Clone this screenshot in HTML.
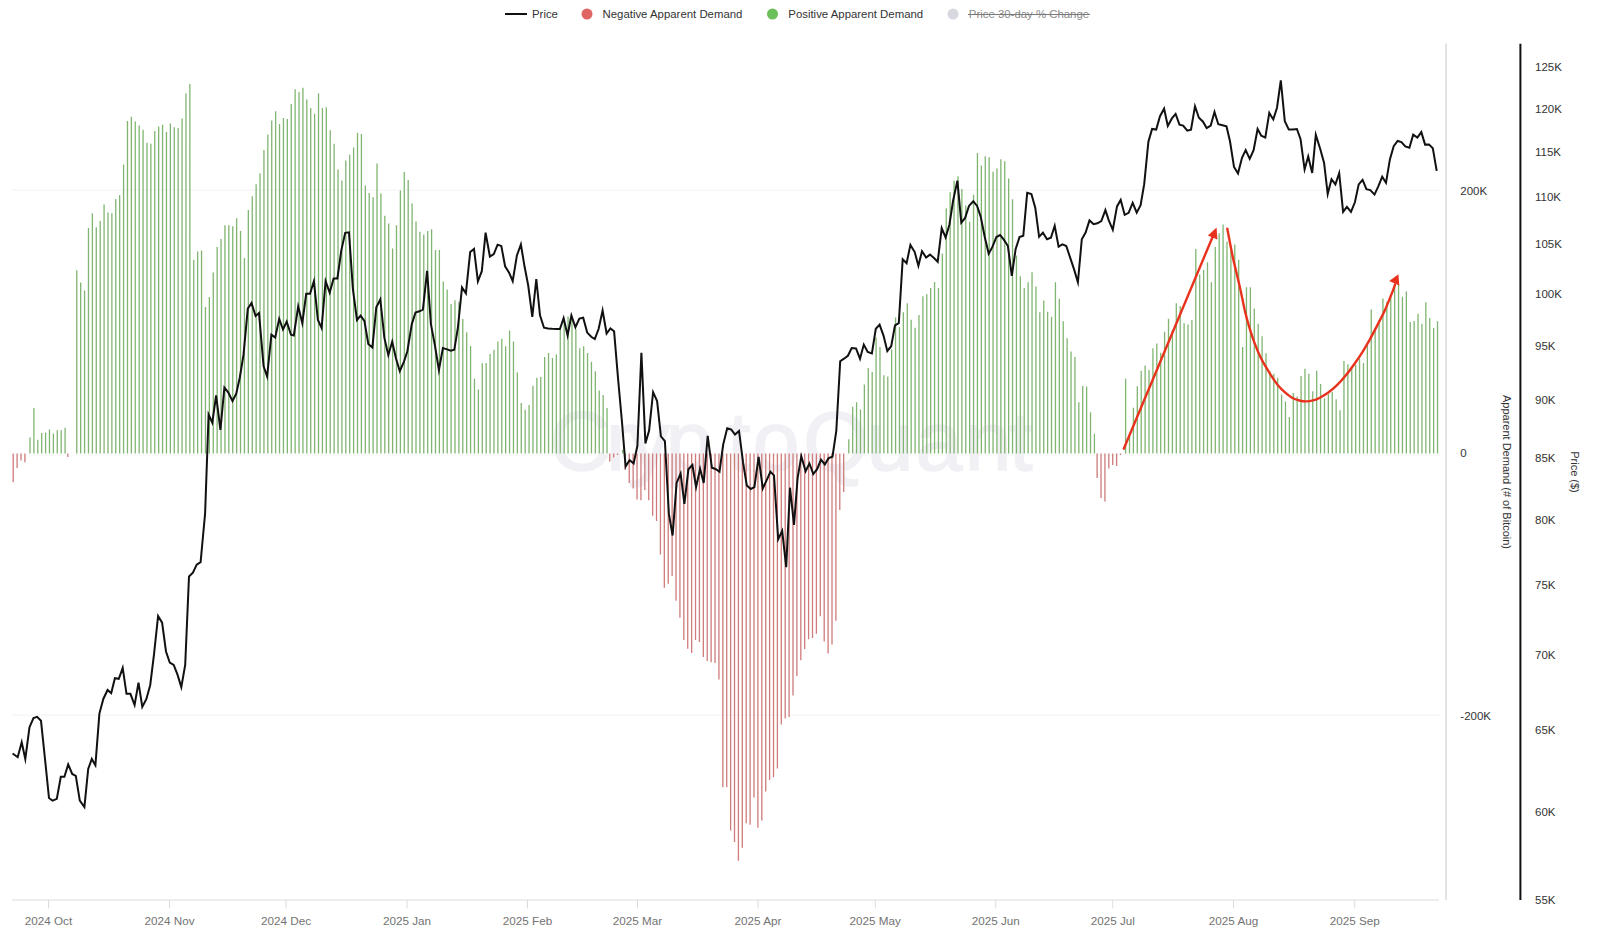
<!DOCTYPE html>
<html><head><meta charset="utf-8"><title>Apparent Demand</title>
<style>
html,body{margin:0;padding:0;background:#fff;width:1600px;height:936px;overflow:hidden}
svg{display:block;position:absolute;left:0;top:0}
text{font-family:"Liberation Sans",sans-serif}
.xl{font-size:11.7px;fill:#737373}
.yl{font-size:11.5px;fill:#333}
.yt{font-size:11px;fill:#333}
.lg{font-size:11.4px;fill:#333}
.lg2{font-size:11.4px;fill:#8a8a8a}
</style></head><body>
<svg width="1600" height="936" viewBox="0 0 1600 936">
<line x1="12" y1="190" x2="1440" y2="190" stroke="#f2f2f2" stroke-width="1"/><line x1="12" y1="715" x2="1440" y2="715" stroke="#f2f2f2" stroke-width="1"/><line x1="12" y1="455" x2="1440" y2="455" stroke="#f7f7f7" stroke-width="1"/>
<g font-family="Liberation Sans, sans-serif" font-size="84" fill="#f1f1f5" stroke="#f1f1f5" stroke-width="1.6" text-anchor="middle"><text x="580" y="470">C</text><text x="620" y="470">r</text><text x="649" y="470">y</text><text x="689" y="470">p</text><text x="739" y="470">t</text><text x="776" y="470">o</text><text x="836" y="470">Q</text><text x="890" y="470">u</text><text x="939" y="470">a</text><text x="988" y="470">n</text><text x="1021" y="470">t</text></g>
<path d="M30.00 437.6V453.5M33.90 407.9V453.5M37.79 439.7V453.5M41.69 433.1V453.5M45.59 432.4V453.5M49.49 429.5V453.5M53.39 433.4V453.5M57.29 430.3V453.5M61.19 430.3V453.5M65.09 427.7V453.5M76.78 270.2V453.5M80.68 282.5V453.5M84.58 290.6V453.5M88.48 228.0V453.5M92.38 213.2V453.5M96.28 227.2V453.5M100.18 220.9V453.5M104.08 204.6V453.5M107.98 212.5V453.5M111.88 213.2V453.5M115.77 199.0V453.5M119.67 195.3V453.5M123.57 164.6V453.5M127.47 120.9V453.5M131.37 116.7V453.5M135.27 121.6V453.5M139.17 125.5V453.5M143.07 129.7V453.5M146.97 142.7V453.5M150.87 143.7V453.5M154.76 130.9V453.5M158.66 126.5V453.5M162.56 124.8V453.5M166.46 131.9V453.5M170.36 123.6V453.5M174.26 127.2V453.5M178.16 128.0V453.5M182.06 118.4V453.5M185.96 93.3V453.5M189.86 84.0V453.5M193.75 259.7V453.5M197.65 251.5V453.5M201.55 250.6V453.5M205.45 307.0V453.5M209.35 297.0V453.5M213.25 272.6V453.5M217.15 246.9V453.5M221.05 239.0V453.5M224.95 225.3V453.5M228.84 225.3V453.5M232.74 226.3V453.5M236.64 218.2V453.5M240.54 230.9V453.5M244.44 258.0V453.5M248.34 210.0V453.5M252.24 196.3V453.5M256.14 184.3V453.5M260.04 173.2V453.5M263.94 149.9V453.5M267.83 134.4V453.5M271.73 120.4V453.5M275.63 111.3V453.5M279.53 124.1V453.5M283.43 117.9V453.5M287.33 119.1V453.5M291.23 103.9V453.5M295.13 89.2V453.5M299.03 92.1V453.5M302.93 87.7V453.5M306.82 99.5V453.5M310.72 108.1V453.5M314.62 113.7V453.5M318.52 93.3V453.5M322.42 108.1V453.5M326.32 107.3V453.5M330.22 130.2V453.5M334.12 143.7V453.5M338.02 169.5V453.5M341.92 180.6V453.5M345.81 160.4V453.5M349.71 154.8V453.5M353.61 147.4V453.5M357.51 132.7V453.5M361.41 133.9V453.5M365.31 185.5V453.5M369.21 192.9V453.5M373.11 197.3V453.5M377.01 163.4V453.5M380.91 193.6V453.5M384.81 215.7V453.5M388.70 223.6V453.5M392.60 248.6V453.5M396.50 225.3V453.5M400.40 190.4V453.5M404.30 172.0V453.5M408.20 180.1V453.5M412.10 203.4V453.5M416.00 221.6V453.5M419.90 231.7V453.5M423.79 234.6V453.5M427.69 230.9V453.5M431.59 229.2V453.5M435.49 249.9V453.5M439.39 249.9V453.5M443.29 281.4V453.5M447.19 289.5V453.5M451.09 304.0V453.5M454.99 300.2V453.5M458.89 302.1V453.5M462.78 319.0V453.5M466.68 332.3V453.5M470.58 346.0V453.5M474.48 378.7V453.5M478.38 389.6V453.5M482.28 363.3V453.5M486.18 363.1V453.5M490.08 354.0V453.5M493.98 349.8V453.5M497.88 341.5V453.5M501.77 338.7V453.5M505.67 346.3V453.5M509.57 330.6V453.5M513.47 341.5V453.5M517.37 372.3V453.5M521.27 403.1V453.5M525.17 409.8V453.5M529.07 405.0V453.5M532.97 385.8V453.5M536.87 377.7V453.5M540.76 377.1V453.5M544.66 356.9V453.5M548.56 353.1V453.5M552.46 357.9V453.5M556.36 354.6V453.5M560.26 328.1V453.5M564.16 318.5V453.5M568.06 316.5V453.5M571.96 319.4V453.5M575.86 329.0V453.5M579.75 348.3V453.5M583.65 346.3V453.5M587.55 353.1V453.5M591.45 361.7V453.5M595.35 371.3V453.5M599.25 390.6V453.5M603.15 395.0V453.5M607.05 407.9V453.5M622.64 449.7V453.5M848.79 439.3V453.5M852.68 406.8V453.5M856.58 402.2V453.5M860.48 409.4V453.5M864.38 384.6V453.5M868.28 368.0V453.5M872.18 372.1V453.5M876.08 337.6V453.5M879.98 347.0V453.5M883.88 375.2V453.5M887.78 376.6V453.5M891.67 349.6V453.5M895.57 317.6V453.5M899.47 327.0V453.5M903.37 312.3V453.5M907.27 303.3V453.5M911.17 319.7V453.5M915.07 327.7V453.5M918.97 315.0V453.5M922.87 296.2V453.5M926.77 294.2V453.5M930.66 288.1V453.5M934.56 281.9V453.5M938.46 288.1V453.5M942.36 253.5V453.5M946.26 208.3V453.5M950.16 192.3V453.5M954.06 180.8V453.5M957.96 176.2V453.5M961.86 189.0V453.5M965.76 205.4V453.5M969.65 221.7V453.5M973.55 194.8V453.5M977.45 153.1V453.5M981.35 165.4V453.5M985.25 156.3V453.5M989.15 157.3V453.5M993.05 171.7V453.5M996.95 168.5V453.5M1000.85 159.2V453.5M1004.75 161.2V453.5M1008.64 178.5V453.5M1012.54 199.2V453.5M1016.44 255.4V453.5M1020.34 276.2V453.5M1024.24 288.1V453.5M1028.14 282.3V453.5M1032.04 272.3V453.5M1035.94 286.5V453.5M1039.84 312.2V453.5M1043.74 300.6V453.5M1047.63 311.7V453.5M1051.53 316.7V453.5M1055.43 282.3V453.5M1059.33 298.8V453.5M1063.23 321.3V453.5M1067.13 338.2V453.5M1071.03 351.6V453.5M1074.93 357.0V453.5M1078.83 402.3V453.5M1082.73 385.9V453.5M1086.62 386.4V453.5M1090.52 412.2V453.5M1094.42 433.8V453.5M1125.62 378.7V453.5M1129.51 436.0V453.5M1133.41 407.7V453.5M1137.31 386.2V453.5M1141.21 370.8V453.5M1145.11 365.6V453.5M1149.01 370.0V453.5M1152.91 348.2V453.5M1156.81 343.6V453.5M1160.71 352.8V453.5M1164.61 331.8V453.5M1168.50 318.7V453.5M1172.40 330.0V453.5M1176.30 303.3V453.5M1180.20 305.9V453.5M1184.10 323.3V453.5M1188.00 324.6V453.5M1191.90 320.0V453.5M1195.80 249.0V453.5M1199.70 274.4V453.5M1203.60 270.0V453.5M1207.49 262.3V453.5M1211.39 282.3V453.5M1215.29 246.9V453.5M1219.19 233.3V453.5M1223.09 224.4V453.5M1226.99 241.8V453.5M1230.89 250.0V453.5M1234.79 244.4V453.5M1238.69 259.7V453.5M1242.59 346.9V453.5M1246.48 287.2V453.5M1250.38 287.2V453.5M1254.28 308.5V453.5M1258.18 323.8V453.5M1262.08 336.2V453.5M1265.98 353.3V453.5M1269.88 371.3V453.5M1273.78 373.8V453.5M1277.68 377.7V453.5M1281.58 394.4V453.5M1285.47 401.5V453.5M1289.37 416.9V453.5M1293.27 393.1V453.5M1297.17 396.4V453.5M1301.07 375.9V453.5M1304.97 368.7V453.5M1308.87 373.8V453.5M1312.77 391.3V453.5M1316.67 370.8V453.5M1320.57 384.1V453.5M1324.46 398.2V453.5M1328.36 394.3V453.5M1332.26 392.1V453.5M1336.16 399.3V453.5M1340.06 410.2V453.5M1343.96 361.1V453.5M1347.86 364.3V453.5M1351.76 368.0V453.5M1355.66 364.7V453.5M1359.56 358.7V453.5M1363.45 363.0V453.5M1367.35 344.4V453.5M1371.25 309.6V453.5M1375.15 328.4V453.5M1379.05 319.8V453.5M1382.95 298.5V453.5M1386.85 301.7V453.5M1390.75 294.2V453.5M1394.65 286.7V453.5M1398.55 284.6V453.5M1402.44 296.8V453.5M1406.34 291.6V453.5M1410.24 322.0V453.5M1414.14 320.9V453.5M1418.04 313.8V453.5M1421.94 323.7V453.5M1425.84 302.3V453.5M1429.74 318.1V453.5M1433.64 328.0V453.5M1437.54 321.3V453.5" stroke="#80b571" stroke-width="1.3" fill="none"/><path d="M13.20 453.5V482.3M17.10 453.5V467.9M21.00 453.5V460.5M24.90 453.5V462.2M67.79 453.5V457.1M609.75 453.5V461.5M613.65 453.5V457.5M617.54 453.5V455.0M625.34 453.5V470.0M629.24 453.5V483.1M633.14 453.5V488.5M637.04 453.5V499.5M640.94 453.5V500.2M644.84 453.5V490.0M648.74 453.5V500.2M652.64 453.5V515.7M656.53 453.5V520.9M660.43 453.5V554.4M664.33 453.5V587.7M668.23 453.5V583.7M672.13 453.5V575.9M676.03 453.5V600.8M679.93 453.5V617.8M683.83 453.5V640.0M687.73 453.5V648.7M691.63 453.5V653.1M695.52 453.5V640.0M699.42 453.5V641.9M703.32 453.5V657.0M707.22 453.5V661.0M711.12 453.5V662.3M715.02 453.5V663.0M718.92 453.5V679.6M722.82 453.5V787.3M726.72 453.5V787.3M730.62 453.5V830.5M734.51 453.5V842.0M738.41 453.5V860.8M742.31 453.5V847.8M746.21 453.5V823.3M750.11 453.5V824.8M754.01 453.5V797.4M757.91 453.5V827.7M761.81 453.5V820.5M765.71 453.5V791.6M769.61 453.5V780.1M773.50 453.5V777.2M777.40 453.5V768.6M781.30 453.5V724.4M785.20 453.5V718.5M789.10 453.5V717.0M793.00 453.5V695.5M796.90 453.5V676.0M800.80 453.5V660.2M804.70 453.5V649.1M808.60 453.5V639.2M812.49 453.5V638.0M816.39 453.5V633.8M820.29 453.5V616.2M824.19 453.5V641.6M828.09 453.5V653.6M831.99 453.5V644.6M835.89 453.5V620.7M839.79 453.5V509.9M843.69 453.5V491.9M1097.12 453.5V478.0M1101.02 453.5V498.0M1104.92 453.5V501.5M1108.82 453.5V468.6M1112.72 453.5V465.1M1116.62 453.5V466.0M1120.52 453.5V455.0" stroke="#cf7b7b" stroke-width="1.3" fill="none"/>
<polyline points="12.6,753.5 17.7,757.2 21.7,742.3 25.3,759.0 29.5,727.2 33.5,718.1 37.1,716.8 41.0,720.8 45.0,759.0 49.0,798.0 52.6,800.7 56.8,798.9 60.8,776.8 64.4,776.8 68.2,764.4 72.2,774.0 75.8,775.9 79.8,800.7 84.4,807.1 88.2,769.0 91.8,759.0 95.4,765.3 99.4,713.6 103.4,698.7 107.6,690.0 111.2,693.2 114.9,678.2 118.8,678.8 122.7,667.9 126.5,693.8 130.4,693.8 134.6,705.0 138.5,682.7 142.3,706.9 146.3,699.2 150.2,685.2 154.0,654.4 158.1,616.0 162.1,622.7 166.0,651.5 169.8,662.7 173.7,665.0 177.5,674.6 181.3,687.1 185.2,665.0 189.0,576.5 192.9,572.7 196.7,564.6 200.6,562.1 205.1,513.5 208.6,414.6 212.3,422.7 216.1,395.3 220.4,429.9 224.4,387.5 228.2,392.4 232.5,401.0 236.2,393.8 239.7,378.0 243.5,354.9 247.8,308.7 251.5,303.0 255.6,316.0 259.0,313.1 263.6,366.4 267.1,376.5 271.4,334.7 275.2,337.6 279.2,318.8 283.0,329.5 286.7,321.7 291.0,334.7 293.8,335.4 298.2,306.3 302.3,323.1 306.2,293.8 310.0,293.8 313.9,281.2 317.9,320.0 321.6,328.0 325.6,281.2 329.7,292.6 333.6,278.5 337.4,278.5 341.3,250.4 345.2,232.8 349.0,232.3 352.9,289.2 357.0,320.0 360.6,315.7 364.4,320.9 368.3,343.9 372.4,347.4 376.3,307.2 380.3,299.5 384.4,337.9 388.3,355.0 392.2,341.7 396.0,358.5 399.8,371.2 403.9,361.8 407.3,351.5 411.8,324.1 415.5,312.5 419.4,311.3 422.9,309.6 427.1,270.8 430.9,324.1 434.8,344.7 438.9,370.0 442.9,348.1 447.1,349.4 450.9,350.6 454.3,349.8 457.9,327.6 462.0,287.4 465.9,293.4 470.2,252.0 474.0,248.9 477.9,281.4 481.8,271.2 485.6,232.7 489.9,256.6 493.8,254.1 497.6,244.7 501.3,245.9 505.1,266.3 509.1,272.7 512.7,281.2 516.9,255.4 520.9,244.5 524.5,266.3 528.2,285.4 532.3,316.8 536.3,279.0 540.0,315.4 544.0,327.7 548.1,328.4 552.1,328.8 556.3,329.0 559.9,329.0 563.6,318.1 567.6,335.3 571.4,315.4 575.4,327.2 579.4,318.6 583.2,317.7 587.2,332.6 591.2,336.8 594.8,339.0 598.6,329.0 602.6,310.5 606.6,333.5 610.4,328.4 614.1,331.3 618.0,378.0 621.9,421.0 625.6,466.4 629.6,460.3 633.6,463.4 637.4,445.8 641.4,352.9 645.4,443.4 649.1,430.5 653.1,392.2 657.1,401.1 660.9,436.4 664.9,441.1 668.9,513.9 672.6,535.5 676.6,482.9 680.6,473.5 684.4,504.0 688.4,469.3 692.4,465.0 696.1,486.9 700.1,468.8 703.7,482.9 707.7,435.9 711.9,467.8 715.5,469.0 719.5,471.8 723.2,444.5 727.2,428.2 731.3,429.6 735.0,434.5 739.0,430.9 743.1,462.7 746.8,485.4 750.8,489.0 754.4,487.2 758.6,456.9 762.8,488.5 766.8,479.9 770.4,471.8 774.0,475.4 778.2,539.3 782.2,530.8 786.2,567.1 790.0,487.7 794.0,524.8 797.6,478.1 801.3,456.3 805.6,471.2 809.4,463.5 813.3,474.0 817.1,469.2 821.0,459.6 824.8,464.4 828.7,458.1 832.5,456.7 836.3,430.8 840.2,361.2 844.0,358.7 847.9,355.8 851.7,348.1 856.0,348.5 860.0,358.7 863.8,344.6 867.7,351.9 871.9,353.5 875.8,328.8 879.6,324.6 883.5,335.6 887.3,351.0 891.2,346.2 895.0,325.4 898.8,323.1 902.7,259.2 906.6,263.2 910.4,244.9 914.7,252.1 918.4,265.7 922.0,251.2 926.1,257.5 930.0,254.6 934.0,258.0 937.7,261.8 941.7,228.1 945.6,237.5 949.4,224.7 953.1,200.8 957.4,180.6 961.3,222.6 965.1,217.9 969.0,205.9 973.3,201.3 977.1,205.9 980.8,217.0 984.7,236.7 988.7,253.8 992.4,246.9 996.4,237.0 1000.1,235.0 1003.8,239.6 1007.9,246.0 1011.8,275.9 1015.6,249.2 1019.5,237.1 1023.3,235.8 1027.2,192.8 1031.4,194.1 1035.3,207.9 1039.1,236.8 1042.9,232.6 1047.0,239.2 1050.9,237.7 1054.7,225.9 1058.6,246.7 1062.4,244.4 1066.3,246.0 1069.9,256.9 1074.0,269.1 1077.9,282.3 1081.8,239.2 1085.6,232.6 1089.5,220.4 1093.6,224.2 1097.4,223.3 1101.3,221.0 1105.4,210.1 1108.7,220.1 1112.8,229.8 1117.0,206.4 1120.7,199.9 1124.7,214.9 1128.6,212.9 1132.7,202.9 1136.7,212.6 1140.6,205.2 1144.2,184.2 1148.4,141.6 1152.1,128.9 1156.2,129.6 1160.0,116.2 1164.1,108.7 1167.8,125.9 1171.9,118.4 1175.6,113.9 1179.5,124.7 1183.1,125.6 1187.3,130.7 1191.0,129.6 1195.0,106.2 1198.9,117.7 1203.0,121.7 1206.7,128.1 1210.7,125.6 1214.5,112.0 1218.3,124.2 1222.5,125.3 1226.5,126.4 1230.0,141.3 1234.0,167.0 1238.0,173.4 1242.0,157.8 1245.7,150.1 1249.7,158.9 1253.6,150.1 1257.6,129.0 1261.3,135.7 1265.3,137.6 1269.3,112.9 1273.3,119.4 1277.0,107.7 1280.8,80.4 1284.8,121.3 1288.8,129.6 1292.9,129.6 1296.9,129.0 1300.5,138.9 1304.6,169.4 1308.2,156.5 1312.2,172.9 1315.8,134.9 1320.3,149.3 1324.1,163.0 1327.7,194.0 1331.5,179.2 1335.4,184.4 1339.2,173.1 1343.1,211.9 1346.9,206.8 1351.0,211.9 1354.9,202.3 1358.7,184.4 1362.6,179.9 1366.4,189.2 1370.3,190.1 1374.5,194.6 1378.3,186.3 1382.2,176.7 1386.0,182.8 1389.9,159.4 1393.7,146.2 1397.6,141.0 1401.4,142.1 1405.3,146.5 1409.4,147.8 1413.2,134.6 1417.4,137.6 1421.3,132.1 1425.1,144.6 1429.0,144.4 1432.8,148.2 1436.7,170.9" fill="none" stroke="#111" stroke-width="2" stroke-linejoin="miter" stroke-miterlimit="6"/>
<line x1="1123.8" y1="448.7" x2="1213" y2="236" stroke="#e8321e" stroke-width="2.4" stroke-linecap="round"/><polygon points="1216.6,227.5 1207.9,235.5 1217.4,239.6" fill="#e8321e"/><path d="M1227.3 228.8C1228.18 233.37 1231.05 248.78 1232.6 256.2C1234.15 263.62 1235.27 267.60 1236.6 273.3C1237.93 279.00 1239.18 283.98 1240.6 290.4C1242.02 296.82 1243.63 305.58 1245.1 311.8C1246.57 318.02 1247.87 322.62 1249.4 327.7C1250.93 332.78 1252.47 337.43 1254.3 342.3C1256.13 347.17 1258.37 352.63 1260.4 356.9C1262.43 361.17 1264.48 364.45 1266.5 367.9C1268.52 371.35 1270.48 374.57 1272.5 377.6C1274.52 380.63 1276.57 383.67 1278.6 386.1C1280.63 388.53 1282.47 390.27 1284.7 392.2C1286.93 394.13 1289.57 396.32 1292 397.7C1294.43 399.08 1296.87 399.88 1299.3 400.5C1301.73 401.12 1304.15 401.47 1306.6 401.4C1309.05 401.33 1311.93 400.63 1314 400.1C1316.07 399.57 1316.67 399.42 1319 398.2C1321.33 396.98 1325.00 394.97 1328 392.8C1331.00 390.63 1334.02 388.12 1337 385.2C1339.98 382.28 1342.92 378.95 1345.9 375.3C1348.88 371.65 1352.15 367.17 1354.9 363.3C1357.65 359.43 1359.90 356.08 1362.4 352.1C1364.90 348.12 1367.40 343.90 1369.9 339.4C1372.40 334.90 1374.90 329.97 1377.4 325.1C1379.90 320.23 1382.67 315.07 1384.9 310.2C1387.13 305.33 1389.40 299.33 1390.8 295.9C1392.20 292.47 1392.60 291.50 1393.3 289.6C1394.00 287.70 1394.72 285.35 1395 284.5" fill="none" stroke="#e8321e" stroke-width="2.4" stroke-linecap="round"/><polygon points="1398.4,274.2 1389.2,281 1399.3,285.4" fill="#e8321e"/>
<line x1="12" y1="900" x2="1439" y2="900" stroke="#dcdcdc" stroke-width="1"/><line x1="1446" y1="43.5" x2="1446" y2="900" stroke="#d0d0d0" stroke-width="1.2"/><line x1="1520.4" y1="43.8" x2="1520.4" y2="900" stroke="#111" stroke-width="2"/><line x1="48.5" y1="900" x2="48.5" y2="908.5" stroke="#dcdcdc" stroke-width="1"/><text x="48.5" y="925" text-anchor="middle" class="xl">2024 Oct</text><line x1="169.5" y1="900" x2="169.5" y2="908.5" stroke="#dcdcdc" stroke-width="1"/><text x="169.5" y="925" text-anchor="middle" class="xl">2024 Nov</text><line x1="286" y1="900" x2="286" y2="908.5" stroke="#dcdcdc" stroke-width="1"/><text x="286" y="925" text-anchor="middle" class="xl">2024 Dec</text><line x1="407" y1="900" x2="407" y2="908.5" stroke="#dcdcdc" stroke-width="1"/><text x="407" y="925" text-anchor="middle" class="xl">2025 Jan</text><line x1="527.5" y1="900" x2="527.5" y2="908.5" stroke="#dcdcdc" stroke-width="1"/><text x="527.5" y="925" text-anchor="middle" class="xl">2025 Feb</text><line x1="637.5" y1="900" x2="637.5" y2="908.5" stroke="#dcdcdc" stroke-width="1"/><text x="637.5" y="925" text-anchor="middle" class="xl">2025 Mar</text><line x1="758" y1="900" x2="758" y2="908.5" stroke="#dcdcdc" stroke-width="1"/><text x="758" y="925" text-anchor="middle" class="xl">2025 Apr</text><line x1="875.25" y1="900" x2="875.25" y2="908.5" stroke="#dcdcdc" stroke-width="1"/><text x="875.25" y="925" text-anchor="middle" class="xl">2025 May</text><line x1="995.75" y1="900" x2="995.75" y2="908.5" stroke="#dcdcdc" stroke-width="1"/><text x="995.75" y="925" text-anchor="middle" class="xl">2025 Jun</text><line x1="1112.75" y1="900" x2="1112.75" y2="908.5" stroke="#dcdcdc" stroke-width="1"/><text x="1112.75" y="925" text-anchor="middle" class="xl">2025 Jul</text><line x1="1233.5" y1="900" x2="1233.5" y2="908.5" stroke="#dcdcdc" stroke-width="1"/><text x="1233.5" y="925" text-anchor="middle" class="xl">2025 Aug</text><line x1="1354.75" y1="900" x2="1354.75" y2="908.5" stroke="#dcdcdc" stroke-width="1"/><text x="1354.75" y="925" text-anchor="middle" class="xl">2025 Sep</text><text x="1460.3" y="194.5" class="yl">200K</text><text x="1460.3" y="456.8" class="yl">0</text><text x="1460.3" y="719.6" class="yl">-200K</text><text x="1535" y="903.8" class="yl">55K</text><text x="1535" y="815.6" class="yl">60K</text><text x="1535" y="734.4" class="yl">65K</text><text x="1535" y="659.3" class="yl">70K</text><text x="1535" y="589.3" class="yl">75K</text><text x="1535" y="523.8" class="yl">80K</text><text x="1535" y="462.4" class="yl">85K</text><text x="1535" y="404.4" class="yl">90K</text><text x="1535" y="349.6" class="yl">95K</text><text x="1535" y="297.6" class="yl">100K</text><text x="1535" y="248.1" class="yl">105K</text><text x="1535" y="200.9" class="yl">110K</text><text x="1535" y="155.9" class="yl">115K</text><text x="1535" y="112.7" class="yl">120K</text><text x="1535" y="71.3" class="yl">125K</text><text transform="translate(1503,472) rotate(90)" text-anchor="middle" class="yt">Apparent Demand (# of Bitcoin)</text><text transform="translate(1571,472) rotate(90)" text-anchor="middle" class="yt">Price ($)</text>
<line x1="505" y1="14" x2="527" y2="14" stroke="#111" stroke-width="2"/><text x="532" y="18.4" class="lg">Price</text><circle cx="587" cy="14" r="5.5" fill="#e06666"/><text x="602.5" y="18.4" class="lg">Negative Apparent Demand</text><circle cx="772.5" cy="14" r="5.5" fill="#6cc05a"/><text x="788.3" y="18.4" class="lg">Positive Apparent Demand</text><circle cx="953" cy="14" r="5.5" fill="#d8d8e0"/><text x="968.8" y="18.4" class="lg2">Price 30-day % Change</text><line x1="968" y1="14.5" x2="1090" y2="14.5" stroke="#7a7a7a" stroke-width="1"/>
</svg>
</body></html>
